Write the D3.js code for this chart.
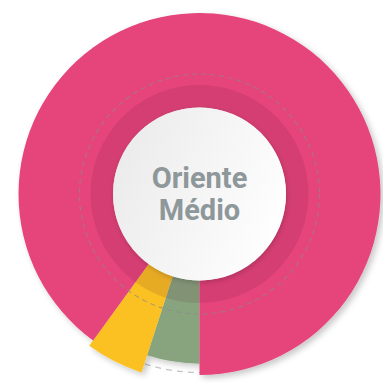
<!DOCTYPE html>
<html>
<head>
<meta charset="utf-8">
<script src="https://cdn.jsdelivr.net/npm/d3@7"></script>
<style>
  html, body { margin: 0; padding: 0; background: #ffffff; }
  svg { display: block; }
</style>
</head>
<body>
<svg id="chart" width="383" height="383"></svg>
<script>
// Segments, in drawing order clockwise from the bottom
const categories = ["Verde", "Amarelo", "Rosa"];
const shares = [5, 5, 90];          // share of the circle (%)
const reach = [88, 107, 100];       // relative radial extent of each segment
const colors = ["#88a47f", "#fbc020", "#e6457c"];
const title = ["Oriente", "Médio"];

const W = 383, H = 383;
const cx = 199.5, cy = 194;
const r0 = 86.5;      // centre disc radius
const rFull = 181;    // radius for reach = 100
const rBand = 109;    // outer edge of the darker inner band
const rGuide = 120;   // dashed guide circle

const svg = d3.select("#chart");
const defs = svg.append("defs");

const sh = defs.append("filter").attr("id", "shadow")
  .attr("x", "-20%").attr("y", "-20%").attr("width", "140%").attr("height", "140%");
sh.append("feDropShadow").attr("dx", 3).attr("dy", 3).attr("stdDeviation", 3)
  .attr("flood-color", "#000").attr("flood-opacity", 0.22);

const sh2 = defs.append("filter").attr("id", "discShadow")
  .attr("x", "-20%").attr("y", "-20%").attr("width", "140%").attr("height", "140%");
sh2.append("feDropShadow").attr("dx", 1).attr("dy", 2).attr("stdDeviation", 2.5)
  .attr("flood-color", "#000").attr("flood-opacity", 0.18);

const grad = defs.append("linearGradient").attr("id", "discGrad")
  .attr("x1", "0%").attr("y1", "30%").attr("x2", "100%").attr("y2", "70%");
grad.append("stop").attr("offset", "0%").attr("stop-color", "#ebebeb");
grad.append("stop").attr("offset", "100%").attr("stop-color", "#ffffff");

const g = svg.append("g").attr("transform", `translate(${cx},${cy})`);

const rScale = d3.scaleLinear().domain([0, 100]).range([r0, rFull]);

const pie = d3.pie().sort(null).value(d => d.share)
  .startAngle(Math.PI).endAngle(3 * Math.PI);
const data = categories.map((c, i) => ({ name: c, share: shares[i], reach: reach[i], color: colors[i] }));
const arcs = pie(data);

// outer dashed guide (visible where a segment falls short)
g.append("circle").attr("r", rFull - 2.5).attr("fill", "none")
  .attr("stroke", "#c4c4c4").attr("stroke-width", 1.2).attr("stroke-dasharray", "6 5");

const arc = d3.arc().innerRadius(r0).outerRadius(d => rScale(d.data.reach));
g.append("g").attr("filter", "url(#shadow)")
  .selectAll("path").data(arcs).join("path")
  .attr("d", arc).attr("fill", d => d.data.color);

// darker inner band
const band = d3.arc().innerRadius(r0).outerRadius(rBand);
g.append("g").selectAll("path").data(arcs).join("path")
  .attr("d", band).attr("fill", "#5a1030").attr("fill-opacity", 0.12);

// inner dashed guide
g.append("circle").attr("r", rGuide).attr("fill", "none")
  .attr("stroke", "#8a8a8a").attr("stroke-opacity", 0.65).attr("stroke-width", 1.1)
  .attr("stroke-dasharray", "5 4");

// centre disc
g.append("circle").attr("r", r0).attr("fill", "url(#discGrad)").attr("filter", "url(#discShadow)");

const t = g.append("text").attr("text-anchor", "middle")
  .attr("font-family", "Roboto, 'Open Sans', sans-serif").attr("font-weight", 700)
  .attr("font-size", 29).attr("fill", "#8e979a");
t.append("tspan").attr("x", 0).attr("y", -6).text(title[0]);
t.append("tspan").attr("x", 0).attr("y", 26).text(title[1]);
</script>
</body>
</html>
